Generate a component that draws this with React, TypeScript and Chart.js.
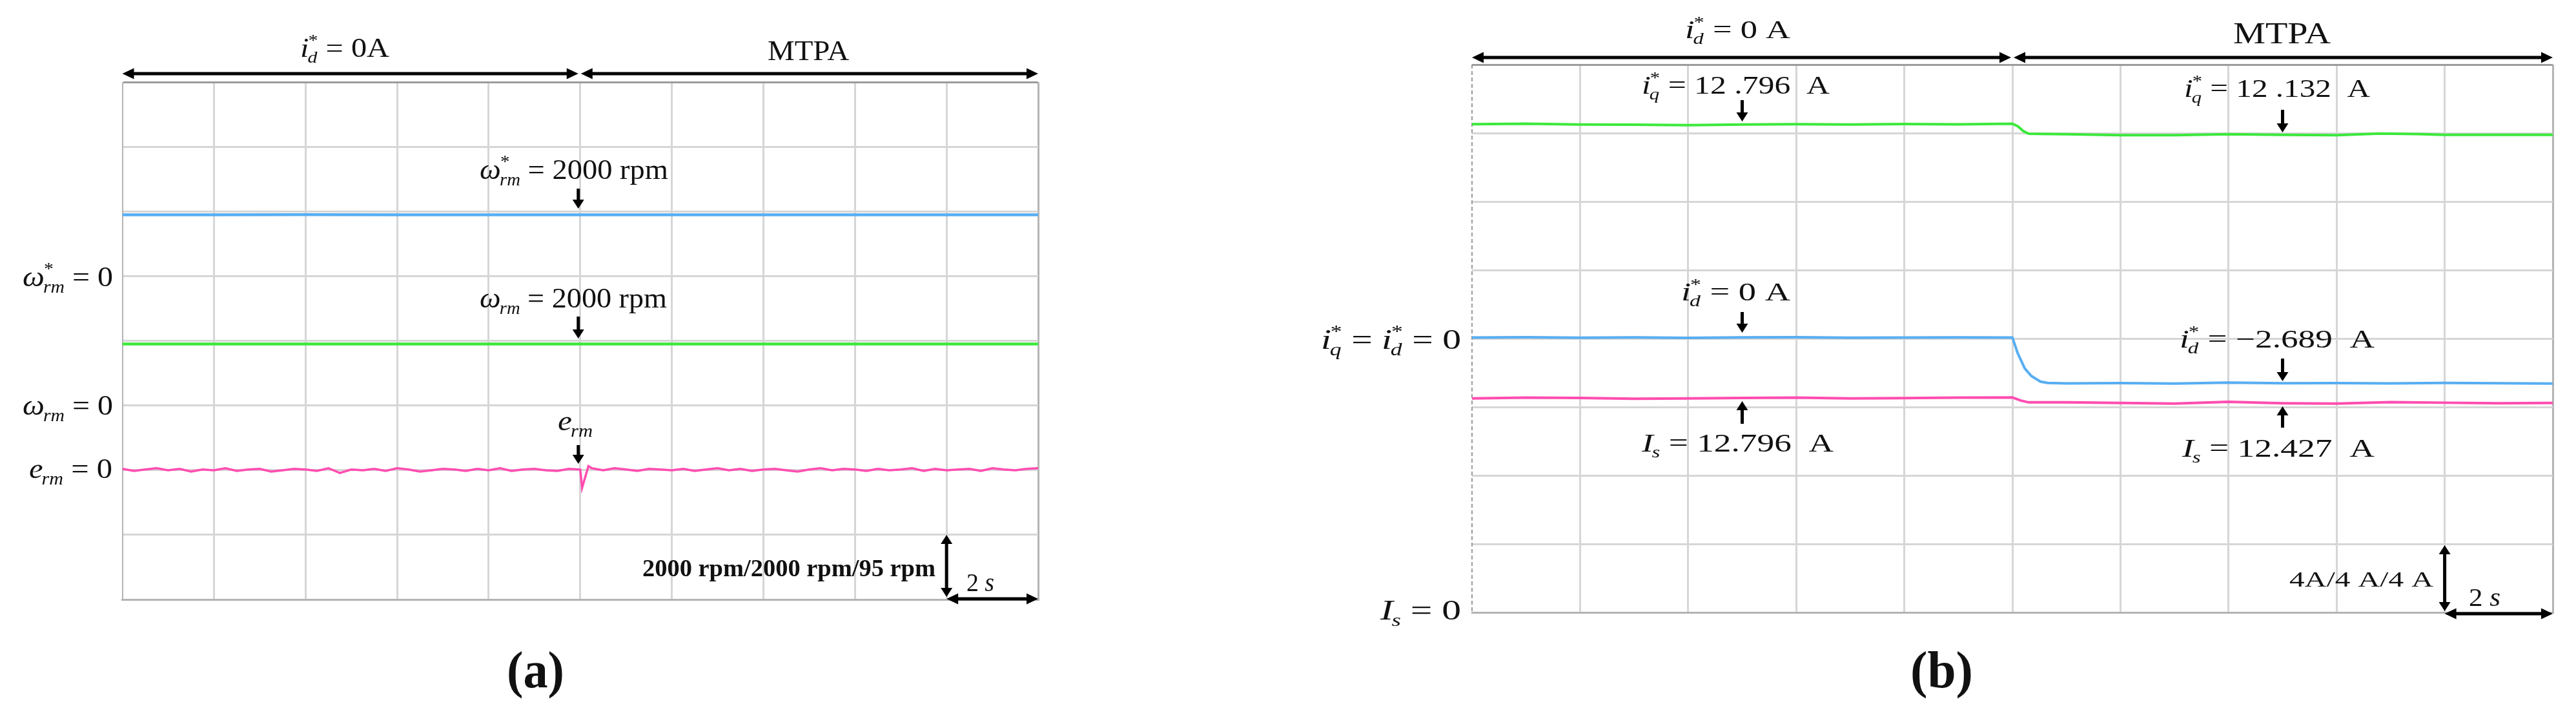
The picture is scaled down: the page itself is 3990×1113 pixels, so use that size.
import React, { useEffect, useRef } from "react";
import { Chart, registerables } from "chart.js";

Chart.register(...registerables);

const W = 3990;
const H = 1113;
const SERIF = '"Liberation Serif", "Times New Roman", Times, serif';

// ---------------- Panel (a): speed loop, time in s, speeds in rpm ----------------
const speedTime = [0, 2, 4, 6, 8, 10, 12, 14, 16, 18, 20];
const speedRefRpm = [1906, 1904, 1907, 1905, 1903, 1906, 1905, 1904, 1906, 1905, 1904];
const speedRpm = [1907, 1905, 1904, 1906, 1905, 1904, 1906, 1905, 1904, 1906, 1905];

const errTime = [
  0, 0.25, 0.5, 0.75, 1, 1.25, 1.5, 1.75, 2, 2.25, 2.5, 2.75, 3, 3.25, 3.5, 3.75, 4, 4.25, 4.5, 4.75,
  5, 5.25, 5.5, 5.75, 6, 6.25, 6.5, 6.75, 7, 7.25, 7.5, 7.75, 8, 8.25, 8.5, 8.75, 9, 9.25, 9.5, 9.75, 10,
  10.04, 10.1, 10.18,
  10.25, 10.5, 10.75, 11, 11.25, 11.5, 11.75, 12, 12.25, 12.5, 12.75, 13, 13.25, 13.5, 13.75, 14, 14.25,
  14.5, 14.75, 15, 15.25, 15.5, 15.75, 16, 16.25, 16.5, 16.75, 17, 17.25, 17.5, 17.75, 18, 18.25, 18.5,
  18.75, 19, 19.25, 19.5, 19.75, 20,
];
const errRpm = [
  2, -1, 1, 3, 0, 2, -2, 1, 0, 3, -1, 1, 2, -2, 0, 2, 1, -1, 3, -4,
  1, 0, 2, -1, 3, 1, -2, 0, 2, 1, -1, 2, 0, 3, -1, 1, 2, 0, -1, 2, 1,
  -26, -12, 6,
  3, 0, 3, 1, -1, 2, 1, 0, 2, -1, 1, 3, 0, 2, -1, 1, 2, 0, -2, 1,
  3, 0, 2, 1, -1, 2, 0, 1, 3, -1, 2, 0, 1, 2, -1, 3, 1, 0, 2, 3,
];

// ---------------- Panel (b): currents in A ----------------
const iqTime = [0, 1, 2, 3, 4, 5, 6, 7, 8, 9, 10, 10.1, 10.2, 10.3, 10.5, 11, 12, 13, 14, 15, 16, 16.8, 17.5, 18, 19, 20];
const iqRefA = [12.52, 12.55, 12.5, 12.49, 12.46, 12.5, 12.52, 12.5, 12.53, 12.51, 12.55, 12.4, 12.12, 11.96, 11.95, 11.93, 11.88, 11.88, 11.93, 11.9, 11.88, 11.97, 11.94, 11.9, 11.9, 11.9];

const idTime = [0, 1, 2, 3, 4, 5, 6, 7, 8, 9, 10, 10.1, 10.23, 10.35, 10.52, 10.65, 11, 12, 13, 14, 15, 16, 17, 18, 19, 20];
const idRefA = [0.06, 0.08, 0.05, 0.07, 0.04, 0.07, 0.08, 0.05, 0.06, 0.07, 0.06, -0.87, -1.75, -2.19, -2.52, -2.59, -2.62, -2.6, -2.63, -2.58, -2.61, -2.6, -2.62, -2.59, -2.61, -2.63];

const isTime = [0, 1, 2, 3, 4, 5, 6, 7, 8, 9, 10, 10.15, 10.3, 11, 12, 13, 14, 15, 16, 17, 18, 19, 20];
const isA = [12.5, 12.55, 12.53, 12.48, 12.5, 12.53, 12.55, 12.5, 12.52, 12.55, 12.56, 12.38, 12.27, 12.27, 12.24, 12.2, 12.3, 12.22, 12.2, 12.28, 12.25, 12.22, 12.24];

// ---------------- styles ----------------
const BLUE = "#58aef2";
const GREEN = "#3de83d";
const PINK = "#ff4db0";
const GRID = "#d6d6d6";
const FRAME_TOP = "#9c9c9c";
const FRAME = "#b4b4b4";

type Seg = { t: string; it?: boolean; sup?: string; sub?: string };
type Label = { segs: Seg[]; x: number; y: number; size: number; w?: number; bold?: boolean };
type VArrow = { t: number; dx?: number; from: number; to: number; both?: boolean };
type HArrow = { t1: number; t2: number; dx1?: number; dx2?: number; y: number };

const V = (t: string, sup?: string, sub?: string): Seg => ({ t, it: true, sup, sub });
const R = (t: string): Seg => ({ t });

const fontStr = (size: number, it?: boolean, bold?: boolean) =>
  `${it ? "italic " : ""}${bold ? "bold " : ""}${size}px ${SERIF}`;

function drawRich(ctx: CanvasRenderingContext2D, L: Label) {
  const { segs, x, y, size, w, bold } = L;
  const small = size * 0.62;
  let total = 0;
  const parts: { text: string; x: number; dy: number; f: string }[] = [];
  for (const s of segs) {
    const f = fontStr(size, s.it, bold);
    ctx.font = f;
    const bw = ctx.measureText(s.t).width;
    parts.push({ text: s.t, x: total, dy: 0, f });
    total += bw;
    if (s.sup || s.sub) {
      let ew = 0;
      if (s.sup) {
        const fs = fontStr(small, false, bold);
        ctx.font = fs;
        const sw = ctx.measureText(s.sup).width;
        parts.push({ text: s.sup, x: total - size * 0.02, dy: -size * 0.4, f: fs });
        ew = Math.max(ew, sw - size * 0.02);
      }
      if (s.sub) {
        const fs = fontStr(small, true, bold);
        ctx.font = fs;
        const sw = ctx.measureText(s.sub).width;
        parts.push({ text: s.sub, x: total - size * 0.04, dy: size * 0.22, f: fs });
        ew = Math.max(ew, sw - size * 0.04);
      }
      total += ew;
    }
  }
  const hs = w ? w / total : 1;
  ctx.save();
  ctx.translate(x, y);
  ctx.scale(hs, 1);
  ctx.fillStyle = "#111";
  ctx.textBaseline = "alphabetic";
  ctx.textAlign = "left";
  for (const p of parts) {
    ctx.font = p.f;
    ctx.fillText(p.text, p.x, p.dy);
  }
  ctx.restore();
}

function drawArrow(
  ctx: CanvasRenderingContext2D,
  x1: number, y1: number, x2: number, y2: number,
  both: boolean, lw: number, hl: number, hw: number
) {
  const ang = Math.atan2(y2 - y1, x2 - x1);
  const ux = Math.cos(ang);
  const uy = Math.sin(ang);
  const sx = both ? x1 + ux * hl * 0.8 : x1;
  const sy = both ? y1 + uy * hl * 0.8 : y1;
  ctx.strokeStyle = "#000";
  ctx.fillStyle = "#000";
  ctx.lineWidth = lw;
  ctx.lineCap = "butt";
  ctx.setLineDash([]);
  ctx.beginPath();
  ctx.moveTo(sx, sy);
  ctx.lineTo(x2 - ux * hl * 0.8, y2 - uy * hl * 0.8);
  ctx.stroke();
  const head = (tx: number, ty: number, dx: number, dy: number) => {
    const bx = tx - dx * hl;
    const by = ty - dy * hl;
    ctx.beginPath();
    ctx.moveTo(tx, ty);
    ctx.lineTo(bx - dy * hw, by + dx * hw);
    ctx.lineTo(bx + dy * hw, by - dx * hw);
    ctx.closePath();
    ctx.fill();
  };
  head(x2, y2, ux, uy);
  if (both) head(x1, y1, -ux, -uy);
}

function annotationPlugin(labels: Label[], varrows: VArrow[], harrows: HArrow[], dashedLeft: boolean) {
  return {
    id: "annotations",
    beforeDatasetsDraw(chart: any) {
      if (!dashedLeft) return;
      const ctx: CanvasRenderingContext2D = chart.ctx;
      const { left, top, bottom } = chart.chartArea;
      ctx.save();
      ctx.strokeStyle = "#9a9a9a";
      ctx.lineWidth = 2;
      ctx.setLineDash([6, 4]);
      ctx.beginPath();
      ctx.moveTo(left, top);
      ctx.lineTo(left, bottom);
      ctx.stroke();
      ctx.restore();
    },
    afterDraw(chart: any) {
      const ctx: CanvasRenderingContext2D = chart.ctx;
      const xs = chart.scales.x;
      ctx.save();
      for (const a of harrows) {
        const x1 = xs.getPixelForValue(a.t1) + (a.dx1 || 0);
        const x2 = xs.getPixelForValue(a.t2) + (a.dx2 || 0);
        drawArrow(ctx, x1, a.y, x2, a.y, true, 5, 18, 8.5);
      }
      for (const a of varrows) {
        const x = xs.getPixelForValue(a.t) + (a.dx || 0);
        drawArrow(ctx, x, a.from, x, a.to, !!a.both, 5, 14, 9);
      }
      for (const l of labels) drawRich(ctx, l);
      ctx.restore();
    },
  };
}

const pts = (xs: number[], ys: number[]) => xs.map((x, i) => ({ x, y: ys[i] }));

function baseScales(dashedLeft: boolean) {
  return {
    x: {
      type: "linear",
      min: 0,
      max: 20,
      ticks: { display: false, stepSize: 2 },
      grid: {
        color: (c: any) => (c.tick && c.tick.value === 0 ? "rgba(0,0,0,0)" : c.tick && c.tick.value === 20 ? FRAME : GRID),
        lineWidth: 3,
        drawTicks: false,
      },
      border: { display: true, color: FRAME, width: 3 },
    },
    y: {
      type: "linear",
      min: 0,
      max: 8,
      ticks: { display: false, stepSize: 1 },
      grid: {
        color: (c: any) =>
          c.tick && c.tick.value === 8 ? FRAME_TOP : c.tick && c.tick.value === 0 ? "rgba(0,0,0,0)" : GRID,
        lineWidth: 3,
        drawTicks: false,
      },
      border: { display: !dashedLeft, color: FRAME, width: 2 },
    },
  };
}

const commonOptions = {
  responsive: false,
  maintainAspectRatio: false,
  animation: false,
  devicePixelRatio: 1,
  events: [],
  plugins: { legend: { display: false }, tooltip: { enabled: false }, title: { display: false } },
  elements: { point: { radius: 0 }, line: { tension: 0 } },
};

// ---------- annotations (a) ----------
const labelsA: Label[] = [
  { segs: [V("i", "*", "d"), R(" = 0A")], x: 465, y: 88, size: 42, w: 138 },
  { segs: [R("MTPA")], x: 1189, y: 93, size: 44, w: 126 },
  { segs: [V("ω", "*", "rm"), R(" = 2000 rpm")], x: 743, y: 277, size: 44, w: 292 },
  { segs: [V("ω", undefined, "rm"), R(" = 2000 rpm")], x: 743, y: 476, size: 44, w: 290 },
  { segs: [V("e", undefined, "rm")], x: 864, y: 666, size: 44, w: 54 },
  { segs: [V("ω", "*", "rm"), R(" = 0")], x: 35, y: 443, size: 44, w: 140 },
  { segs: [V("ω", undefined, "rm"), R(" = 0")], x: 35, y: 642, size: 44, w: 140 },
  { segs: [V("e", undefined, "rm"), R(" = 0")], x: 45, y: 740, size: 44, w: 129 },
  { segs: [R("2000 rpm/2000 rpm/95 rpm")], x: 995, y: 892, size: 38, w: 454, bold: true },
  { segs: [R("2 "), V("s")], x: 1497, y: 915, size: 40, w: 43 },
  { segs: [R("(a)")], x: 785, y: 1064, size: 80, w: 89, bold: true },
];
const vArrowsA: VArrow[] = [
  { t: 10, dx: -3, from: 292, to: 323 },
  { t: 10, dx: -3, from: 490, to: 524 },
  { t: 10, dx: -3, from: 689, to: 718 },
  { t: 18, from: 828, to: 924, both: true },
];
const hArrowsA: HArrow[] = [
  { t1: 0, t2: 10, dx2: -3, y: 114 },
  { t1: 10, dx1: 1, t2: 20, y: 114 },
  { t1: 18, t2: 20, y: 927 },
];

// ---------- annotations (b) ----------
const labelsB: Label[] = [
  { segs: [V("i", "*", "d"), R(" = 0 A")], x: 2610, y: 59, size: 41, w: 163 },
  { segs: [R("MTPA")], x: 3459, y: 67, size: 47, w: 151 },
  { segs: [V("i", "*", "q"), R(" = 12 .796  A")], x: 2543, y: 145, size: 40, w: 291 },
  { segs: [V("i", "*", "q"), R(" = 12 .132  A")], x: 3383, y: 150, size: 40, w: 288 },
  { segs: [V("i", "*", "d"), R(" = 0 A")], x: 2604, y: 465, size: 40, w: 169 },
  { segs: [V("i", "*", "d"), R(" = −2.689  A")], x: 3376, y: 538, size: 40, w: 302 },
  { segs: [V("I", undefined, "s"), R(" = 12.796  A")], x: 2543, y: 699, size: 40, w: 297 },
  { segs: [V("I", undefined, "s"), R(" = 12.427  A")], x: 3380, y: 707, size: 40, w: 298 },
  { segs: [V("i", "*", "q"), R(" = "), V("i", "*", "d"), R(" = 0")], x: 2046, y: 540, size: 44, w: 217 },
  { segs: [V("I", undefined, "s"), R(" = 0")], x: 2138, y: 959, size: 44, w: 125 },
  { segs: [R("4A/4 A/4 A")], x: 3546, y: 908, size: 33, w: 223 },
  { segs: [R("2 "), V("s")], x: 3824, y: 938, size: 40, w: 49 },
  { segs: [R("(b)")], x: 2959, y: 1064, size: 80, w: 97, bold: true },
];
const vArrowsB: VArrow[] = [
  { t: 5, from: 155, to: 188 },
  { t: 5, from: 483, to: 515 },
  { t: 15, from: 170, to: 205 },
  { t: 15, from: 555, to: 590 },
  { t: 5, from: 656, to: 621 },
  { t: 15, from: 662, to: 629 },
  { t: 18, from: 844, to: 946, both: true },
];
const hArrowsB: HArrow[] = [
  { t1: 0, t2: 10, dx2: -2, y: 89 },
  { t1: 10, dx1: 2, t2: 20, y: 89 },
  { t1: 18, t2: 20, y: 950 },
];

function configA(): any {
  return {
    type: "line",
    data: {
      datasets: [
        { data: pts(speedTime, speedRefRpm), yAxisID: "yRef", borderColor: BLUE, borderWidth: 4.5, pointRadius: 0 },
        { data: pts(speedTime, speedRpm), yAxisID: "ySpd", borderColor: GREEN, borderWidth: 4.5, pointRadius: 0 },
        { data: pts(errTime, errRpm), yAxisID: "yErr", borderColor: PINK, borderWidth: 3.5, pointRadius: 0 },
      ],
    },
    options: {
      ...commonOptions,
      layout: { padding: { left: 189.5, right: W - 1608, top: 127.6, bottom: H - 928 } },
      scales: {
        ...baseScales(false),
        // 2000 rpm/div, zero at division 5
        yRef: { type: "linear", display: false, min: -10000, max: 6000 },
        // 2000 rpm/div, zero at division 3
        ySpd: { type: "linear", display: false, min: -6000, max: 10000 },
        // 95 rpm/div, zero at division 2
        yErr: { type: "linear", display: false, min: -190, max: 570 },
      },
    },
    plugins: [annotationPlugin(labelsA, vArrowsA, hArrowsA, false)],
  };
}

function configB(): any {
  return {
    type: "line",
    data: {
      datasets: [
        { data: pts(iqTime, iqRefA), yAxisID: "yDQ", borderColor: GREEN, borderWidth: 4, pointRadius: 0 },
        { data: pts(idTime, idRefA), yAxisID: "yDQ", borderColor: BLUE, borderWidth: 4, pointRadius: 0 },
        { data: pts(isTime, isA), yAxisID: "yIs", borderColor: PINK, borderWidth: 4, pointRadius: 0 },
      ],
    },
    options: {
      ...commonOptions,
      layout: { padding: { left: 2280, right: W - 3954, top: 100, bottom: H - 948 } },
      scales: {
        ...baseScales(true),
        // 4 A/div, zero at division 4
        yDQ: { type: "linear", display: false, min: -16, max: 16 },
        // 4 A/div, zero at division 0
        yIs: { type: "linear", display: false, min: 0, max: 32 },
      },
    },
    plugins: [annotationPlugin(labelsB, vArrowsB, hArrowsB, true)],
  };
}

export default function App() {
  const refA = useRef<HTMLCanvasElement>(null);
  const refB = useRef<HTMLCanvasElement>(null);

  useEffect(() => {
    const a = new Chart(refA.current as HTMLCanvasElement, configA());
    const b = new Chart(refB.current as HTMLCanvasElement, configB());
    return () => {
      a.destroy();
      b.destroy();
    };
  }, []);

  const cstyle: React.CSSProperties = { position: "absolute", left: 0, top: 0, width: W, height: H, display: "block" };
  return (
    <div style={{ position: "absolute", left: 0, top: 0, width: W, height: H, background: "#ffffff", overflow: "hidden" }}>
      <canvas ref={refA} width={W} height={H} style={cstyle} />
      <canvas ref={refB} width={W} height={H} style={cstyle} />
    </div>
  );
}
